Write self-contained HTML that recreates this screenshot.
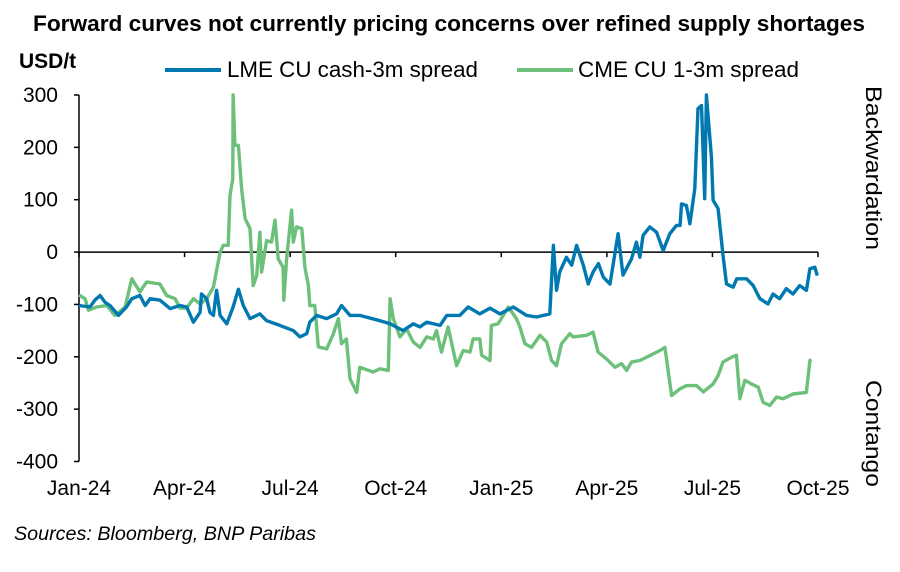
<!DOCTYPE html>
<html><head><meta charset="utf-8"><style>
body{margin:0;background:#fff;width:900px;height:567px;overflow:hidden;font-family:"Liberation Sans",Arial,sans-serif}
</style></head><body>
<svg width="900" height="567" viewBox="0 0 900 567" xmlns="http://www.w3.org/2000/svg">
<text x="449" y="31" text-anchor="middle" font-size="22.5" font-weight="bold" fill="#000" textLength="832" lengthAdjust="spacingAndGlyphs">Forward curves not currently pricing concerns over refined supply shortages</text>
<text x="19" y="68" font-size="21" font-weight="bold" fill="#000">USD/t</text>
<g>
<line x1="165" y1="70" x2="221" y2="70" stroke="#0079B0" stroke-width="4"/>
<text x="227" y="77" font-size="22" fill="#000" textLength="251" lengthAdjust="spacingAndGlyphs">LME CU cash-3m spread</text>
<line x1="517" y1="70" x2="573" y2="70" stroke="#6CC07A" stroke-width="4"/>
<text x="578" y="77" font-size="22" fill="#000" textLength="221" lengthAdjust="spacingAndGlyphs">CME CU 1-3m spread</text>
</g>
<g id="axes"></g>
<g id="series"></g>
<text transform="translate(866,86) rotate(90)" font-size="22" fill="#000" textLength="164" lengthAdjust="spacingAndGlyphs">Backwardation</text>
<text transform="translate(866,380) rotate(90)" font-size="22" fill="#000" textLength="107" lengthAdjust="spacingAndGlyphs">Contango</text>
<text x="14" y="540" font-size="19.5" font-style="italic" fill="#000" textLength="302" lengthAdjust="spacingAndGlyphs">Sources: Bloomberg, BNP Paribas</text>
</svg>
<script>
const yTicks=[300,200,100,0,-100,-200,-300,-400];
const xTickLabels=["Jan-24","Apr-24","Jul-24","Oct-24","Jan-25","Apr-25","Jul-25","Oct-25"];
const xTickMonths=[0,3,6,9,12,15,18,21];
const lmeMonths=[0,0.31,0.45,0.6,0.74,0.88,1.12,1.35,1.5,1.73,1.88,2.02,2.3,2.59,2.87,3.06,3.25,3.44,3.48,3.63,3.72,3.82,3.91,4.01,4.2,4.38,4.53,4.67,4.86,5.14,5.33,5.71,6.09,6.28,6.47,6.56,6.75,7.04,7.32,7.46,7.7,7.98,8.55,8.84,9.21,9.5,9.69,9.88,10.26,10.45,10.82,11.06,11.39,11.68,11.96,12.34,12.72,13,13.38,13.48,13.57,13.66,13.85,14,14.14,14.33,14.47,14.61,14.76,14.9,15.09,15.32,15.46,15.7,15.84,15.94,16.03,16.22,16.41,16.6,16.79,16.98,17.08,17.12,17.26,17.36,17.5,17.59,17.69,17.78,17.83,17.97,18.02,18.16,18.3,18.4,18.59,18.69,18.97,19.16,19.35,19.58,19.72,19.91,20.1,20.29,20.48,20.67,20.77,20.91,20.98];
const lmeValues=[-102,-105,-92,-83,-96,-102,-121,-105,-89,-83,-102,-89,-92,-108,-102,-105,-134,-115,-80,-89,-115,-121,-73,-121,-137,-105,-71,-102,-127,-118,-131,-140,-150,-162,-156,-134,-121,-127,-118,-102,-121,-121,-131,-137,-150,-137,-143,-134,-140,-121,-121,-105,-118,-107,-118,-105,-121,-124,-118,13,-73,-38,-10,-25,13,-25,-61,-38,-22,-48,-61,35,-44,-13,19,-10,32,48,38,3,35,51,51,92,89,54,121,274,280,102,300,182,99,83,-6,-61,-67,-51,-51,-64,-89,-99,-80,-89,-70,-80,-64,-73,-32,-29,-45];
const cmeMonths=[0,0.17,0.27,0.5,0.79,1.02,1.31,1.5,1.73,1.92,2.3,2.49,2.73,2.87,3.06,3.25,3.44,3.63,3.82,4.01,4.1,4.24,4.29,4.37,4.38,4.43,4.53,4.62,4.72,4.86,4.95,5.05,5.14,5.19,5.33,5.47,5.57,5.66,5.8,5.82,5.9,6.04,6.09,6.18,6.33,6.42,6.52,6.56,6.7,6.8,7.04,7.23,7.37,7.46,7.6,7.7,7.89,7.98,8.36,8.55,8.79,8.84,8.93,9.12,9.31,9.5,9.69,9.88,10.07,10.16,10.3,10.49,10.73,10.92,11.11,11.2,11.39,11.44,11.68,11.72,11.91,12.2,12.43,12.53,12.67,12.86,13.1,13.29,13.43,13.57,13.71,13.95,14.04,14.42,14.61,14.75,14.99,15.23,15.42,15.56,15.7,15.94,16.51,16.65,16.84,17.08,17.27,17.55,17.74,18.02,18.16,18.3,18.54,18.68,18.78,18.92,19.11,19.3,19.44,19.63,19.82,20.01,20.29,20.67,20.77,20.81];
const cmeValues=[-82,-89,-111,-105,-102,-121,-105,-51,-76,-57,-61,-83,-89,-107,-107,-89,-99,-89,-67,0,13,13,108,140,300,204,204,121,64,45,-64,-45,38,-38,22,19,61,-13,-29,-92,-13,80,19,48,45,-29,-64,-102,-102,-181,-185,-156,-127,-175,-166,-242,-268,-220,-229,-223,-226,-89,-127,-162,-147,-172,-182,-162,-166,-150,-191,-143,-217,-188,-191,-166,-166,-197,-207,-140,-137,-105,-127,-143,-175,-182,-159,-172,-207,-217,-175,-156,-162,-159,-153,-191,-204,-220,-213,-226,-210,-207,-188,-182,-274,-261,-255,-255,-267,-252,-236,-210,-201,-197,-280,-245,-252,-258,-287,-293,-277,-280,-271,-268,-207,-205];

const NS="http://www.w3.org/2000/svg";
const X0=79,X1=818,Y300=95,Yn400=461.5;
function xs(m){return X0+(m/21)*(X1-X0);}
function ys(v){return Y300+(300-v)/700*(Yn400-Y300);}
const axes=document.getElementById('axes');
function mk(tag,attrs,parent){const e=document.createElementNS(NS,tag);for(const k in attrs)e.setAttribute(k,attrs[k]);parent.appendChild(e);return e;}
const yAxis=mk('line',{x1:X0,y1:ys(300),x2:X0,y2:ys(-400),stroke:'#000','stroke-width':1.5},axes);


yTicks.forEach(v=>{
  const t=mk('line',{x1:X0-5,y1:ys(v),x2:X0,y2:ys(v),stroke:'#000','stroke-width':1.5},axes);
  
  
  const l=mk('text',{x:58,y:ys(v)+7,'text-anchor':'end','font-size':21,fill:'#000'},axes);
  l.textContent=v;
  
  
});
const xAxis=mk('line',{x1:X0,y1:ys(0),x2:X1,y2:ys(0),stroke:'#000','stroke-width':1.5},axes);


xTickMonths.forEach((m,i)=>{
  const t=mk('line',{x1:xs(m),y1:ys(0),x2:xs(m),y2:ys(0)+5,stroke:'#000','stroke-width':1.5},axes);
  
  
  const l=mk('text',{x:xs(m),y:495,'text-anchor':'middle','font-size':21,fill:'#000'},axes);
  l.textContent=xTickLabels[i];
  
  
});
const series=document.getElementById('series');
function line(ms,vs,color){return mk('polyline',{points:ms.map((m,i)=>xs(m).toFixed(1)+','+ys(vs[i]).toFixed(1)).join(' '),fill:'none',stroke:color,'stroke-width':3.4,'stroke-linejoin':'round'},series);}
const cme=line(cmeMonths,cmeValues,'#6CC07A');


const lme=line(lmeMonths,lmeValues,'#0079B0');


</script>
</body></html>
